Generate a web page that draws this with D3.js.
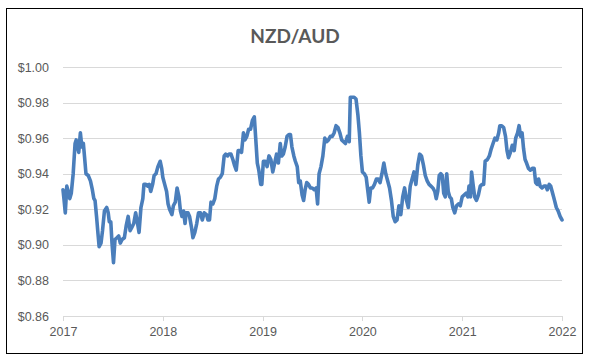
<!DOCTYPE html>
<html>
<head>
<meta charset="utf-8">
<script src="https://cdn.jsdelivr.net/npm/d3@7"></script>
<style>
  body { margin: 0; background: #fff; }
  svg { display: block; font-family: Lato, "Open Sans", sans-serif; }
</style>
</head>
<body>
<div id="chart"></div>
<script>
// Title and axis tick labels
var title = "NZD/AUD";
var yTicks = [0.86, 0.88, 0.90, 0.92, 0.94, 0.96, 0.98, 1.00];
var xTicks = [2017, 2018, 2019, 2020, 2021, 2022];

// Weekly observations: years elapsed since start of 2017, and the NZD/AUD rate
var yearsSince2017 = [
  0.000, 0.011, 0.023, 0.038, 0.057, 0.068, 0.083, 0.102, 0.121, 0.132,
  0.147, 0.158, 0.174, 0.189, 0.204, 0.215, 0.230, 0.253, 0.275, 0.294,
  0.309, 0.321, 0.336, 0.351, 0.362, 0.381, 0.396, 0.415, 0.438, 0.453,
  0.464, 0.479, 0.491, 0.506, 0.521, 0.540, 0.558, 0.574, 0.592, 0.615,
  0.634, 0.653, 0.672, 0.691, 0.709, 0.728, 0.747, 0.762, 0.781, 0.800,
  0.811, 0.830, 0.849, 0.864, 0.879, 0.898, 0.913, 0.932, 0.951, 0.974,
  0.989, 1.000, 1.019, 1.038, 1.053, 1.068, 1.091, 1.106, 1.125, 1.143,
  1.162, 1.177, 1.192, 1.208, 1.223, 1.234, 1.253, 1.268, 1.287, 1.302,
  1.321, 1.340, 1.358, 1.377, 1.396, 1.415, 1.438, 1.453, 1.468, 1.483,
  1.502, 1.521, 1.540, 1.558, 1.577, 1.596, 1.615, 1.630, 1.649, 1.664,
  1.683, 1.702, 1.717, 1.736, 1.755, 1.770, 1.789, 1.808, 1.823, 1.842,
  1.860, 1.879, 1.898, 1.917, 1.932, 1.947, 1.962, 1.981, 1.992, 2.008,
  2.026, 2.045, 2.064, 2.083, 2.102, 2.121, 2.140, 2.158, 2.177, 2.192,
  2.208, 2.226, 2.245, 2.264, 2.279, 2.294, 2.313, 2.328, 2.347, 2.362,
  2.377, 2.396, 2.411, 2.426, 2.442, 2.460, 2.479, 2.498, 2.517, 2.536,
  2.551, 2.566, 2.585, 2.604, 2.623, 2.642, 2.660, 2.679, 2.698, 2.717,
  2.736, 2.755, 2.774, 2.792, 2.811, 2.830, 2.849, 2.868, 2.879, 2.898,
  2.917, 2.936, 2.955, 2.970, 2.985, 3.000, 3.019, 3.038, 3.053, 3.068,
  3.083, 3.102, 3.121, 3.140, 3.158, 3.177, 3.196, 3.215, 3.234, 3.253,
  3.272, 3.291, 3.309, 3.328, 3.347, 3.366, 3.385, 3.404, 3.423, 3.442,
  3.460, 3.479, 3.498, 3.517, 3.536, 3.555, 3.574, 3.592, 3.611, 3.630,
  3.649, 3.668, 3.687, 3.706, 3.725, 3.740, 3.755, 3.770, 3.785, 3.800,
  3.815, 3.830, 3.845, 3.860, 3.875, 3.891, 3.906, 3.925, 3.943, 3.962,
  3.981, 4.000, 4.019, 4.038, 4.057, 4.068, 4.083, 4.094, 4.109, 4.125,
  4.143, 4.162, 4.181, 4.200, 4.215, 4.230, 4.253, 4.272, 4.291, 4.309,
  4.328, 4.347, 4.366, 4.377, 4.396, 4.415, 4.434, 4.449, 4.464, 4.483,
  4.502, 4.521, 4.536, 4.555, 4.570, 4.585, 4.600, 4.615, 4.630, 4.645,
  4.664, 4.683, 4.702, 4.721, 4.736, 4.751, 4.766, 4.781, 4.800, 4.819,
  4.838, 4.853, 4.872, 4.887, 4.906, 4.925, 4.943, 4.962, 4.981, 5.000
];
var rates = [
  0.931, 0.925, 0.918, 0.933, 0.929, 0.926, 0.929, 0.940, 0.957, 0.959,
  0.955, 0.952, 0.963, 0.955, 0.957, 0.950, 0.940, 0.939, 0.936, 0.931,
  0.926, 0.925, 0.916, 0.906, 0.899, 0.901, 0.908, 0.919, 0.921, 0.918,
  0.913, 0.913, 0.901, 0.890, 0.903, 0.904, 0.905, 0.901, 0.903, 0.904,
  0.911, 0.916, 0.908, 0.910, 0.912, 0.918, 0.912, 0.907, 0.921, 0.926,
  0.934, 0.934, 0.933, 0.934, 0.930, 0.934, 0.939, 0.940, 0.944, 0.947,
  0.943, 0.938, 0.934, 0.930, 0.923, 0.920, 0.917, 0.922, 0.924, 0.932,
  0.927, 0.919, 0.916, 0.919, 0.912, 0.918, 0.918, 0.916, 0.910, 0.904,
  0.907, 0.912, 0.918, 0.918, 0.914, 0.918, 0.917, 0.914, 0.914, 0.924,
  0.923, 0.926, 0.933, 0.937, 0.938, 0.940, 0.950, 0.951, 0.950, 0.951,
  0.951, 0.948, 0.945, 0.942, 0.953, 0.953, 0.952, 0.963, 0.959, 0.961,
  0.965, 0.965, 0.970, 0.972, 0.959, 0.946, 0.942, 0.934, 0.934, 0.947,
  0.947, 0.944, 0.950, 0.948, 0.941, 0.946, 0.951, 0.946, 0.957, 0.950,
  0.951, 0.955, 0.961, 0.962, 0.962, 0.955, 0.950, 0.947, 0.944, 0.935,
  0.936, 0.928, 0.925, 0.931, 0.935, 0.934, 0.932, 0.932, 0.931, 0.932,
  0.923, 0.940, 0.944, 0.950, 0.960, 0.958, 0.959, 0.961, 0.961, 0.963,
  0.967, 0.966, 0.963, 0.959, 0.958, 0.957, 0.961, 0.958, 0.983, 0.983,
  0.983, 0.982, 0.973, 0.963, 0.950, 0.941, 0.940, 0.938, 0.931, 0.924,
  0.932, 0.932, 0.934, 0.937, 0.937, 0.935, 0.940, 0.946, 0.940, 0.936,
  0.932, 0.925, 0.916, 0.913, 0.914, 0.922, 0.917, 0.927, 0.932, 0.925,
  0.921, 0.933, 0.937, 0.941, 0.934, 0.945, 0.951, 0.950, 0.945, 0.939,
  0.936, 0.934, 0.933, 0.932, 0.930, 0.926, 0.930, 0.939, 0.940, 0.939,
  0.929, 0.927, 0.940, 0.930, 0.927, 0.926, 0.921, 0.918, 0.922, 0.923,
  0.922, 0.927, 0.928, 0.929, 0.927, 0.933, 0.927, 0.941, 0.934, 0.927,
  0.925, 0.928, 0.933, 0.934, 0.934, 0.947, 0.948, 0.950, 0.954, 0.957,
  0.960, 0.959, 0.963, 0.967, 0.967, 0.966, 0.961, 0.953, 0.949, 0.952,
  0.956, 0.953, 0.960, 0.963, 0.967, 0.961, 0.963, 0.954, 0.948, 0.946,
  0.943, 0.942, 0.943, 0.943, 0.935, 0.934, 0.937, 0.933, 0.932, 0.933,
  0.933, 0.931, 0.934, 0.933, 0.929, 0.925, 0.921, 0.919, 0.916, 0.914
];

var width = 593, height = 363;
var margin = { top: 67, right: 31, bottom: 47, left: 63 };
var plotW = width - margin.left - margin.right;
var plotH = height - margin.top - margin.bottom;
var textColor = "#595959";
var gridColor = "#d9d9d9";

var svg = d3.select("#chart").append("svg")
  .attr("width", width)
  .attr("height", height);

// Chart frame
svg.append("rect")
  .attr("x", 6.5).attr("y", 8.5)
  .attr("width", 576).attr("height", 345)
  .attr("fill", "#fff")
  .attr("stroke", "#000")
  .attr("stroke-width", 1);

svg.append("text")
  .attr("x", 295).attr("y", 43)
  .attr("text-anchor", "middle")
  .attr("font-size", 19)
  .attr("font-weight", "bold")
  .attr("fill", textColor)
  .text(title);

var g = svg.append("g")
  .attr("transform", "translate(" + margin.left + "," + margin.top + ")");

var xScale = d3.scaleLinear().domain([2017, 2022]).range([0, plotW]);
var yScale = d3.scaleLinear().domain([0.86, 1.00]).range([plotH, 0]);

// Horizontal gridlines with dollar labels
var yAxis = d3.axisLeft(yScale)
  .tickValues(yTicks)
  .tickSize(-plotW)
  .tickPadding(14)
  .tickFormat(function(d) { return "$" + d.toFixed(2); });
g.append("g").attr("class", "y axis").call(yAxis);
g.select(".y.axis .domain").remove();
g.selectAll(".y.axis .tick line").attr("stroke", gridColor).attr("shape-rendering", "crispEdges");
g.selectAll(".y.axis .tick text").attr("fill", textColor).attr("font-size", 12.5);

// Year axis along the bottom
var xAxis = d3.axisBottom(xScale)
  .tickValues(xTicks)
  .tickSizeInner(5)
  .tickSizeOuter(0)
  .tickPadding(6)
  .tickFormat(d3.format("d"));
g.append("g").attr("class", "x axis")
  .attr("transform", "translate(0," + plotH + ")")
  .call(xAxis);
g.select(".x.axis .domain").attr("stroke", gridColor).attr("shape-rendering", "crispEdges");
g.selectAll(".x.axis .tick line").attr("stroke", gridColor).attr("shape-rendering", "crispEdges");
g.selectAll(".x.axis .tick text").attr("fill", textColor).attr("font-size", 12.5);

var series = yearsSince2017.map(function(t, i) { return { year: 2017 + t, rate: rates[i] }; });

var line = d3.line()
  .x(function(d) { return xScale(d.year); })
  .y(function(d) { return yScale(d.rate); });

g.append("path")
  .datum(series)
  .attr("fill", "none")
  .attr("stroke", "#4a7ebb")
  .attr("stroke-width", 3.6)
  .attr("stroke-linejoin", "round")
  .attr("stroke-linecap", "round")
  .attr("d", line);
</script>
</body>
</html>
